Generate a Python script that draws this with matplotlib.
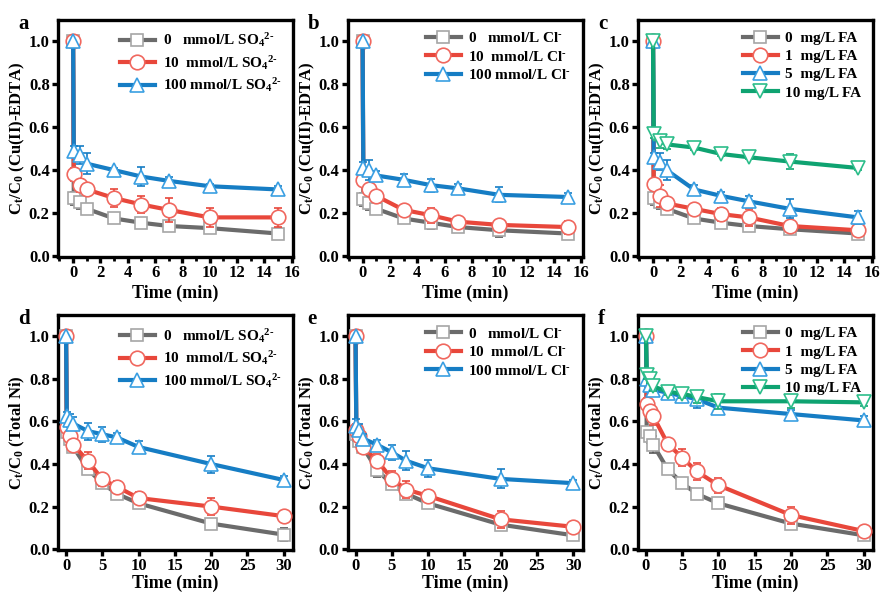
import matplotlib
matplotlib.use("Agg")
import matplotlib.pyplot as plt
from matplotlib.ticker import MultipleLocator

plt.rcParams['font.family'] = 'Liberation Serif'
plt.rcParams['font.weight'] = 'bold'
plt.rcParams['mathtext.fontset'] = 'custom'
plt.rcParams['mathtext.rm'] = 'Liberation Serif:bold'
plt.rcParams['mathtext.it'] = 'Liberation Serif:bold:italic'
plt.rcParams['mathtext.bf'] = 'Liberation Serif:bold'

# time points
t_short = [0, 0.05, 0.5, 1, 3, 5, 7, 10, 15]
t_long = [0, 0.1, 0.5, 1, 3, 5, 7, 10, 20, 30]

# panel a - Cu(II)-EDTA, sulfate
a_0 = [1.0, 0.27, 0.25, 0.22, 0.175, 0.155, 0.14, 0.13, 0.105]
a_10 = [1.0, 0.38, 0.33, 0.31, 0.27, 0.24, 0.215, 0.18, 0.18]
a_100 = [1.0, 0.49, 0.47, 0.43, 0.40, 0.37, 0.35, 0.325, 0.31]
a_0_err = [0, 0.03, 0.03, 0.01, 0.015, 0.015, 0.015, 0.01, 0.01]
a_10_err = [0, 0.03, 0.03, 0.02, 0.04, 0.04, 0.055, 0.045, 0.045]
a_100_err = [0, 0.02, 0.04, 0.05, 0.01, 0.045, 0.02, 0.01, 0.015]

# panel b - Cu(II)-EDTA, chloride
b_0 = [1.0, 0.265, 0.245, 0.22, 0.175, 0.155, 0.135, 0.12, 0.105]
b_10 = [1.0, 0.355, 0.31, 0.28, 0.215, 0.19, 0.16, 0.145, 0.135]
b_100 = [1.0, 0.41, 0.40, 0.375, 0.355, 0.33, 0.315, 0.285, 0.275]
b_0_err = [0, 0.03, 0.03, 0.02, 0.015, 0.03, 0.02, 0.03, 0.01]
b_10_err = [0, 0.03, 0.02, 0.02, 0.02, 0.035, 0.01, 0.02, 0.03]
b_100_err = [0, 0.03, 0.045, 0.02, 0.025, 0.03, 0.02, 0.035, 0.02]

# panel c - Cu(II)-EDTA, FA
c_0 = [1.0, 0.27, 0.25, 0.22, 0.175, 0.155, 0.14, 0.125, 0.105]
c_1 = [1.0, 0.335, 0.28, 0.245, 0.22, 0.195, 0.18, 0.14, 0.12]
c_5 = [1.0, 0.46, 0.44, 0.40, 0.31, 0.28, 0.255, 0.22, 0.18]
c_10 = [1.0, 0.57, 0.535, 0.52, 0.505, 0.475, 0.46, 0.44, 0.41]
c_0_err = [0, 0.03, 0.03, 0.01, 0.01, 0.015, 0.015, 0.01, 0.01]
c_1_err = [0, 0.02, 0.05, 0.02, 0.01, 0.03, 0.04, 0.02, 0.02]
c_5_err = [0, 0.02, 0.04, 0.045, 0.02, 0.02, 0.025, 0.045, 0.03]
c_10_err = [0, 0.02, 0.03, 0.02, 0.01, 0.01, 0.01, 0.035, 0.01]

# panel d - Total Ni, sulfate
d_0 = [1.0, 0.55, 0.52, 0.48, 0.375, 0.31, 0.26, 0.215, 0.12, 0.068]
d_10 = [1.0, 0.575, 0.53, 0.49, 0.415, 0.328, 0.293, 0.24, 0.2, 0.155]
d_100 = [1.0, 0.625, 0.605, 0.59, 0.555, 0.54, 0.525, 0.48, 0.40, 0.325]
d_0_err = [0, 0.03, 0.03, 0.02, 0.02, 0.015, 0.02, 0.02, 0.015, 0.03]
d_10_err = [0, 0.03, 0.03, 0.03, 0.04, 0.03, 0.025, 0.03, 0.04, 0.01]
d_100_err = [0, 0.02, 0.03, 0.03, 0.04, 0.035, 0.02, 0.03, 0.04, 0.02]

# panel e - Total Ni, chloride
e_0 = [1.0, 0.54, 0.51, 0.48, 0.37, 0.305, 0.26, 0.215, 0.115, 0.065]
e_10 = [1.0, 0.56, 0.53, 0.48, 0.415, 0.33, 0.28, 0.25, 0.14, 0.105]
e_100 = [1.0, 0.58, 0.56, 0.52, 0.49, 0.455, 0.415, 0.38, 0.33, 0.31]
e_0_err = [0, 0.03, 0.03, 0.03, 0.03, 0.02, 0.02, 0.02, 0.02, 0.015]
e_10_err = [0, 0.03, 0.04, 0.03, 0.03, 0.035, 0.04, 0.03, 0.04, 0.01]
e_100_err = [0, 0.03, 0.03, 0.02, 0.025, 0.035, 0.045, 0.04, 0.045, 0.015]

# panel f - Total Ni, FA
f_0 = [1.0, 0.55, 0.53, 0.49, 0.375, 0.31, 0.26, 0.215, 0.12, 0.065]
f_1 = [1.0, 0.68, 0.65, 0.625, 0.495, 0.43, 0.365, 0.30, 0.16, 0.085]
f_5 = [1.0, 0.80, 0.77, 0.75, 0.735, 0.72, 0.705, 0.665, 0.635, 0.605]
f_10 = [1.0, 0.82, 0.80, 0.765, 0.74, 0.73, 0.715, 0.695, 0.695, 0.69]
f_0_err = [0, 0.02, 0.03, 0.04, 0.02, 0.01, 0.02, 0.02, 0.01, 0.02]
f_1_err = [0, 0.03, 0.03, 0.04, 0.01, 0.04, 0.04, 0.035, 0.04, 0.02]
f_5_err = [0, 0.03, 0.03, 0.03, 0.02, 0.03, 0.04, 0.03, 0.02, 0.02]
f_10_err = [0, 0.02, 0.02, 0.02, 0.015, 0.02, 0.03, 0.035, 0.03, 0.015]

so4 = r"SO$_\mathrm{4}$$^\mathrm{2\text{-}}$"
cl = r"Cl$^\text{-}$"
ion_labels_so4 = ["0   mmol/L " + so4, "10  mmol/L " + so4, "100 mmol/L " + so4]
ion_labels_cl = ["0   mmol/L " + cl, "10  mmol/L " + cl, "100 mmol/L " + cl]
fa_labels = ["0  mg/L FA", "1  mg/L FA", "5  mg/L FA", "10 mg/L FA"]

# (line colour, marker edge colour, marker)
styles = [("#6b6b6b", "#a6a6a6", "s"),
          ("#e8473b", "#f0675e", "o"),
          ("#167dc4", "#3a9fe2", "^"),
          ("#0fa371", "#2cbd8a", "v")]
msizes = {"s": 8.5, "o": 10.5, "^": 10.5, "v": 10.5}

fig = plt.figure(figsize=(8.8, 5.98), dpi=100)

lefts = [0.066, 0.395, 0.725]
width = 0.267
bottoms = [0.570, 0.080]
heights = [0.397, 0.393]

panels = [
    ("a", t_short, [a_0, a_10, a_100], [a_0_err, a_10_err, a_100_err], ion_labels_so4, "Cu(II)-EDTA"),
    ("b", t_short, [b_0, b_10, b_100], [b_0_err, b_10_err, b_100_err], ion_labels_cl, "Cu(II)-EDTA"),
    ("c", t_short, [c_0, c_1, c_5, c_10], [c_0_err, c_1_err, c_5_err, c_10_err], fa_labels, "Cu(II)-EDTA"),
    ("d", t_long, [d_0, d_10, d_100], [d_0_err, d_10_err, d_100_err], ion_labels_so4, "Total Ni"),
    ("e", t_long, [e_0, e_10, e_100], [e_0_err, e_10_err, e_100_err], ion_labels_cl, "Total Ni"),
    ("f", t_long, [f_0, f_1, f_5, f_10], [f_0_err, f_1_err, f_5_err, f_10_err], fa_labels, "Total Ni"),
]

for i, (letter, t, series, errs, labels, target) in enumerate(panels):
    row, col = divmod(i, 3)
    ax = fig.add_axes([lefts[col], bottoms[row], width, heights[row]])
    for k, (y, e, lab) in enumerate(zip(series, errs, labels)):
        lc, mc, mk = styles[k]
        ax.errorbar(t, y, yerr=e, fmt="none", ecolor=lc if k else "#555555",
                    elinewidth=1.2, capsize=3, capthick=1.2, zorder=2 + k)
        ax.plot(t, y, color=lc, lw=3, marker=mk, markersize=msizes[mk],
                markerfacecolor="white", markeredgecolor=mc, markeredgewidth=1.2,
                label=lab, zorder=3 + k)
    if row == 0:
        ax.set_xlim(-1.1, 16.1)
        ax.xaxis.set_major_locator(MultipleLocator(2))
        ax.xaxis.set_minor_locator(MultipleLocator(1))
    else:
        ax.set_xlim(-1.1, 31.3)
        ax.xaxis.set_major_locator(MultipleLocator(5))
    ax.set_ylim(-0.005, 1.1)
    ax.yaxis.set_major_locator(MultipleLocator(0.2))
    ax.yaxis.set_major_formatter(matplotlib.ticker.FormatStrFormatter("%.1f"))
    for s in ax.spines.values():
        s.set_linewidth(2.4)
    ax.tick_params(which="major", direction="out", length=4, width=2.4,
                   labelsize=12, pad=2)
    ax.tick_params(which="minor", direction="out", length=3, width=2.0)
    ax.set_xlabel("Time (min)", fontsize=13, fontweight="bold",
                  labelpad=2 if row == 0 else 0)
    ax.set_ylabel(r"C$_\mathrm{t}$/C$_\mathrm{0}$ (" + target + ")", fontsize=12,
                  fontweight="bold", labelpad=1)
    ax.legend(loc="upper right", frameon=False, fontsize=11, handlelength=2.3,
              labelspacing=0.3, borderaxespad=0.35, handletextpad=0.5)
    ax.text(-0.17, 1.025, letter, transform=ax.transAxes, fontsize=15,
            fontweight="bold", va="top", ha="left")

fig.savefig("out.png", dpi=100)
